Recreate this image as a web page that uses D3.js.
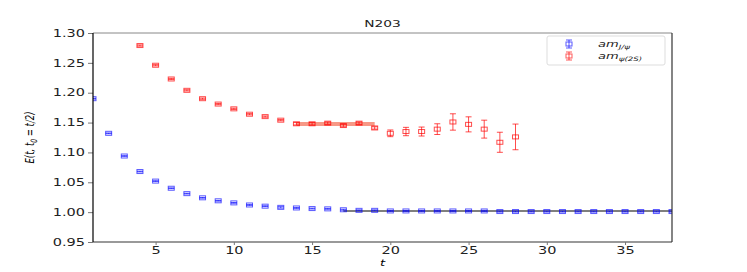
<!DOCTYPE html>
<meta charset="utf-8">
<style>
  body { margin: 0; background: #fff; }
  text { font-family: "DejaVu Sans", sans-serif; }
</style>
<svg width="747" height="272"></svg>
<script src="https://d3js.org/d3.v7.min.js"></script>
<script>

  // am_J/psi : t = 1..38
  var tBlue = d3.range(1, 39);
  var blueVals = [1.190, 1.132, 1.094, 1.068, 1.052, 1.040, 1.031, 1.024, 1.019, 1.0155,
                  1.012, 1.010, 1.008, 1.007, 1.006, 1.0055, 1.004, 1.003, 1.003, 1.002,
                  1.002, 1.002, 1.002, 1.002, 1.002, 1.002, 1.001, 1.001, 1.001, 1.001,
                  1.001, 1.001, 1.001, 1.001, 1.001, 1.001, 1.001, 1.001];
  var blueErrs = [0.0006, 0.0006, 0.0006, 0.0006, 0.0006, 0.0006, 0.0006, 0.0006, 0.0006, 0.0006,
                  0.0007, 0.0007, 0.0012, 0.0007, 0.0007, 0.0007, 0.0008, 0.0008, 0.0008, 0.0008,
                  0.0008, 0.0008, 0.0008, 0.0008, 0.0008, 0.0009, 0.0009, 0.0009, 0.0009, 0.0009,
                  0.0009, 0.0009, 0.0009, 0.0009, 0.0009, 0.0009, 0.0009, 0.0009];

  // am_psi(2S) : t = 4..28
  var tRed = d3.range(4, 29);
  var redVals = [1.279, 1.246, 1.223, 1.204, 1.190, 1.181, 1.173, 1.164, 1.160, 1.154,
                 1.148, 1.148, 1.149, 1.145, 1.149, 1.141, 1.132, 1.135, 1.135, 1.139,
                 1.151, 1.147, 1.139, 1.117, 1.126];
  var redErrs = [0.001, 0.001, 0.001, 0.001, 0.001, 0.001, 0.001, 0.001, 0.001, 0.001,
                 0.002, 0.002, 0.002, 0.002, 0.002, 0.002, 0.0056, 0.007, 0.0075, 0.009,
                 0.0137, 0.0126, 0.015, 0.0168, 0.0215];

  // plateau fits
  var blueFit = {t0: 17, t1: 38, v: 1.002};
  var redFit = {t0: 14, t1: 19, v: 1.1476};

  var xTicks = [5, 10, 15, 20, 25, 30, 35];
  var yTicks = [0.95, 1.00, 1.05, 1.10, 1.15, 1.20, 1.25, 1.30];

  var svg = d3.select("svg"),
  margin = {top: 33, right: 75, bottom: 30, left: 93},
  width = +svg.attr("width") - margin.left - margin.right,
  height = +svg.attr("height") - margin.top - margin.bottom;

  var stretch = 1.45;   // figure was squeezed vertically, text looks wide

  var x = d3.scaleLinear().domain([1, 38]).range([0, width]),
  y = d3.scaleLinear().domain([0.95, 1.30]).range([height, 0]);

  svg.append("clipPath").attr("id", "plotclip")
  .append("rect").attr("width", width).attr("height", height);

  var g = svg.append("g")
  .attr("transform", "translate(" + margin.left + "," + margin.top + ")");

  var plot = g.append("g").attr("clip-path", "url(#plotclip)");

  // fit lines
  plot.append("line")
  .attr("x1", x(redFit.t0)).attr("x2", x(redFit.t1))
  .attr("y1", y(redFit.v)).attr("y2", y(redFit.v))
  .style("stroke", "#f4765e").style("stroke-opacity", 0.75).style("stroke-width", 4);

  plot.append("line")
  .attr("x1", x(blueFit.t0)).attr("x2", x(blueFit.t1))
  .attr("y1", y(blueFit.v)).attr("y2", y(blueFit.v))
  .style("stroke", "#555").style("stroke-width", 1.5);

  function series(ts, vals, errs, color, op) {
    var data = ts.map(function(t, i) { return {t: t, v: vals[i], e: errs[i]}; });
    var s = plot.append("g").style("stroke", color).style("stroke-opacity", op).style("fill", "none");
    var pts = s.selectAll("g").data(data).enter().append("g");
    pts.append("line")
    .attr("x1", function(d) { return x(d.t); }).attr("x2", function(d) { return x(d.t); })
    .attr("y1", function(d) { return y(d.v - d.e); }).attr("y2", function(d) { return y(d.v + d.e); });
    [-1, 1].forEach(function(sg) {
      pts.append("line")
      .attr("x1", function(d) { return x(d.t) - 3; }).attr("x2", function(d) { return x(d.t) + 3; })
      .attr("y1", function(d) { return y(d.v + sg * d.e); }).attr("y2", function(d) { return y(d.v + sg * d.e); });
    });
    pts.append("rect")
    .attr("x", function(d) { return x(d.t) - 3; })
    .attr("y", function(d) { return y(d.v) - 2; })
    .attr("width", 6).attr("height", 4);
  }

  series(tBlue, blueVals, blueErrs, "#0000ff", 0.65);
  series(tRed, redVals, redErrs, "#ff0000", 0.7);

  // axes
  var xAxis = g.append("g")
  .attr("transform", "translate(0," + height + ")")
  .call(d3.axisBottom(x).tickValues(xTicks).tickSize(3).tickPadding(2));

  var yAxis = g.append("g")
  .call(d3.axisLeft(y).tickValues(yTicks).tickFormat(d3.format(".2f")).tickSize(5).tickPadding(3));

  [xAxis, yAxis].forEach(function(a) {
    a.select(".domain").remove();
    a.selectAll(".tick line").style("stroke", "#777");
    a.selectAll("text").style("font-size", "10px").style("fill", "#222");
  });
  xAxis.selectAll("text").attr("transform", "scale(" + stretch + ",1)");
  yAxis.selectAll("text").attr("x", -8 / stretch).attr("transform", "scale(" + stretch + ",1)");

  // frame
  g.append("line").attr("x1", 0).attr("x2", width).attr("y1", 0).attr("y2", 0)
  .style("stroke", "#888").style("stroke-width", 1);
  g.append("line").attr("x1", 0).attr("x2", width).attr("y1", height).attr("y2", height)
  .style("stroke", "#777").style("stroke-width", 1.5);
  g.append("line").attr("x1", 0).attr("x2", 0).attr("y1", 0).attr("y2", height)
  .style("stroke", "#000").style("stroke-width", 1.2);
  g.append("line").attr("x1", width).attr("x2", width).attr("y1", 0).attr("y2", height)
  .style("stroke", "#333").style("stroke-width", 1.2);

  // title and labels
  svg.append("text")
  .attr("transform", "translate(" + (margin.left + width / 2) + ",27) scale(" + stretch + ",1)")
  .attr("text-anchor", "middle")
  .style("font-size", "9.5px")
  .style("fill", "#222")
  .text("N203");

  svg.append("text")
  .attr("transform", "translate(" + (margin.left + width / 2) + ",266) scale(" + stretch + ",1)")
  .attr("text-anchor", "middle")
  .style("font-size", "9px")
  .style("font-style", "italic")
  .text("t");

  var yl = svg.append("text")
  .attr("transform", "translate(34," + (margin.top + height / 2) + ") rotate(-90) scale(1," + stretch + ")")
  .attr("text-anchor", "middle")
  .style("font-size", "8.5px")
  .style("font-style", "italic");
  yl.append("tspan").text("E(t, t");
  yl.append("tspan").attr("dy", 2).style("font-size", "6px").text("0");
  yl.append("tspan").attr("dy", -2).text(" = t/2)");

  // legend
  var leg = svg.append("g").attr("transform", "translate(547,36)");
  leg.append("rect")
  .attr("width", 118).attr("height", 29).attr("rx", 2)
  .style("fill", "#fff").style("stroke", "#ddd");

  var legItems = [
    {color: "#0000ff", main: "am", sub: "J/\u03c8"},
    {color: "#ff0000", main: "am", sub: "\u03c8(2S)"}
  ];
  legItems.forEach(function(d, i) {
    var row = leg.append("g").attr("transform", "translate(22," + (8 + i * 12) + ")")
    .style("stroke", d.color).style("stroke-opacity", 0.65).style("fill", "none");
    row.append("line").attr("x1", 0).attr("x2", 0).attr("y1", -4).attr("y2", 4);
    row.append("line").attr("x1", -3).attr("x2", 3).attr("y1", -4).attr("y2", -4);
    row.append("line").attr("x1", -3).attr("x2", 3).attr("y1", 4).attr("y2", 4);
    row.append("rect").attr("x", -3).attr("y", -2).attr("width", 6).attr("height", 4);

    var t = leg.append("text")
    .attr("transform", "translate(51," + (11 + i * 12) + ") scale(" + stretch + ",1)")
    .style("font-size", "9px")
    .style("font-style", "italic")
    .style("fill", "#222");
    t.append("tspan").text(d.main);
    t.append("tspan").attr("dy", 2).style("font-size", "6px").text(d.sub);
  });

</script>
